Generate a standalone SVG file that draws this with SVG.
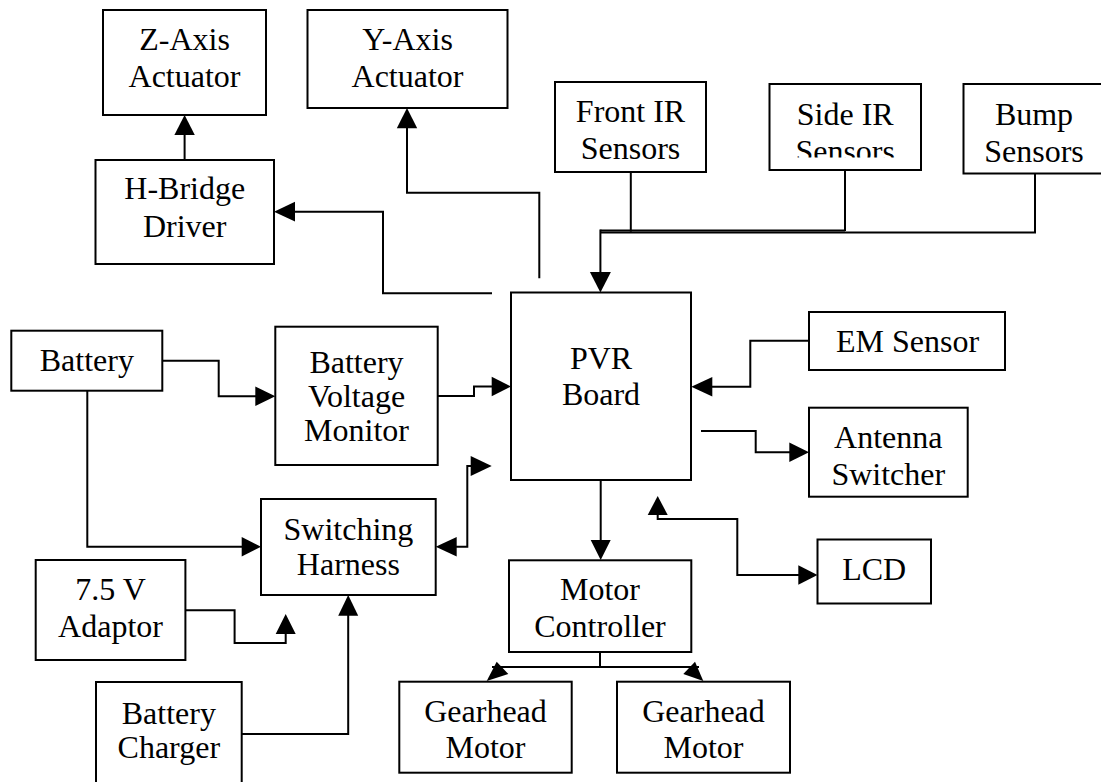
<svg xmlns="http://www.w3.org/2000/svg" width="1101" height="782" viewBox="0 0 1101 782">
  <style>
    .box { fill: #fff; stroke: #000; stroke-width: 2; }
    .lbl { font-family: "Liberation Serif", "Times New Roman", serif; font-size: 32px; fill: #000; text-anchor: middle; }
    .wire { fill: none; stroke: #000; stroke-width: 2; }
    .head { fill: #000; stroke: none; }
  </style>
  <defs>
    <clipPath id="sideClip">
      <rect x="769.5" y="84" width="151.5" height="73.5"/>
    </clipPath>
  </defs>
  <rect width="1101" height="782" fill="#fff"/>

  <!-- connectors -->
  <g id="connectors">
    <!-- H-Bridge to Z-Axis -->
    <path class="wire" d="M184.6,160 V134"/>
    <polygon class="head" points="184.6,115 174.4,135 194.8,135"/>
    <!-- PVR to H-Bridge -->
    <path class="wire" d="M492,293.3 H383 V211.7 H294"/>
    <polygon class="head" points="274,211.7 295,201.8 295,221.6"/>
    <!-- PVR to Y-Axis -->
    <path class="wire" d="M539.3,278.3 V192.7 H407 V127"/>
    <polygon class="head" points="407,108 396.8,128.3 417.2,128.3"/>
    <!-- sensor bus into PVR -->
    <path class="wire" d="M630.8,172 V231.7"/>
    <path class="wire" d="M845,170 V231"/>
    <path class="wire" d="M1035,173.5 V232.5 H600.4"/>
    <path class="wire" d="M845,230.5 H600.4"/>
    <path class="wire" d="M600.4,229.5 V273"/>
    <polygon class="head" points="600.4,292.5 589.9,272 610.9,272"/>
    <!-- Battery to Battery Voltage Monitor -->
    <path class="wire" d="M162.3,360.7 H218.7 V396.3 H256"/>
    <polygon class="head" points="275.3,396.3 255.3,386.6 255.3,406"/>
    <!-- Battery Voltage Monitor to PVR -->
    <path class="wire" d="M437.7,396 H474 V386.5 H492"/>
    <polygon class="head" points="511,386.5 491.7,376.8 491.7,396.2"/>
    <!-- Battery to Switching Harness -->
    <path class="wire" d="M87.3,390.7 V546.7 H242"/>
    <polygon class="head" points="261,546.7 241.7,537 241.7,556.4"/>
    <!-- Switching Harness and PVR -->
    <polygon class="head" points="435.7,546.7 456.7,537 456.7,556.4"/>
    <path class="wire" d="M456,546.7 H467.3 V466 H471"/>
    <polygon class="head" points="491.7,466 470.7,456 470.7,476"/>
    <!-- EM Sensor to PVR -->
    <path class="wire" d="M809,340.7 H750.3 V386.7 H712"/>
    <polygon class="head" points="691.3,386.7 712.3,377 712.3,396.4"/>
    <!-- PVR to Antenna Switcher -->
    <path class="wire" d="M701,431 H755.7 V452.3 H790"/>
    <polygon class="head" points="809,452.3 789.3,442.6 789.3,462"/>
    <!-- PVR to Motor Controller -->
    <path class="wire" d="M600.7,480 V541"/>
    <polygon class="head" points="600.7,560 590.7,540 610.7,540"/>
    <!-- PVR and LCD -->
    <polygon class="head" points="657.7,496 647.7,515 667.7,515"/>
    <path class="wire" d="M657.7,514 V519 H737.3 V575 H799"/>
    <polygon class="head" points="817.5,575 798.3,565.3 798.3,584.7"/>
    <!-- Adaptor to Switching Harness -->
    <path class="wire" d="M185.4,610.3 H234.6 V643 H285.7 V633"/>
    <polygon class="head" points="285.7,614 275.7,634 295.7,634"/>
    <!-- Charger to Switching Harness -->
    <path class="wire" d="M241.7,734 H348.2 V615"/>
    <polygon class="head" points="348.2,595 338.2,615.7 358.2,615.7"/>
    <!-- Motor Controller to Gearhead Motors -->
    <path class="wire" d="M600,652 V667"/>
    <path class="wire" d="M492,667 H699"/>
    <polygon class="head" points="486.7,681 496.7,661.7 508.3,674"/>
    <polygon class="head" points="703.3,681 695,661.7 683.3,674"/>
  </g>

  <!-- nodes -->
  <g id="z-axis">
    <rect class="box" x="103" y="10" width="163" height="105"/>
    <text class="lbl" x="184.5" y="50">Z-Axis</text>
    <text class="lbl" x="184.5" y="87">Actuator</text>
  </g>
  <g id="y-axis">
    <rect class="box" x="307.5" y="10" width="200" height="98"/>
    <text class="lbl" x="407.5" y="50">Y-Axis</text>
    <text class="lbl" x="407.5" y="87">Actuator</text>
  </g>
  <g id="h-bridge">
    <rect class="box" x="95.5" y="160" width="178.5" height="104"/>
    <text class="lbl" x="184.7" y="199">H-Bridge</text>
    <text class="lbl" x="184.7" y="236.5">Driver</text>
  </g>
  <g id="front-ir">
    <rect class="box" x="555" y="82" width="151" height="90"/>
    <text class="lbl" x="630.5" y="122.3">Front IR</text>
    <text class="lbl" x="630.5" y="159.3">Sensors</text>
  </g>
  <g id="side-ir">
    <rect class="box" x="769.5" y="84" width="151.5" height="86"/>
    <text class="lbl" x="845.2" y="124.5">Side IR</text>
    <text class="lbl" x="845.2" y="162" clip-path="url(#sideClip)">Sensors</text>
  </g>
  <g id="bump">
    <rect class="box" x="963.5" y="84" width="142" height="89.5"/>
    <text class="lbl" x="1034" y="125">Bump</text>
    <text class="lbl" x="1034" y="161.7">Sensors</text>
  </g>
  <g id="pvr">
    <rect class="box" x="511" y="292.5" width="180" height="187.5"/>
    <text class="lbl" x="601" y="369.3">PVR</text>
    <text class="lbl" x="601" y="405">Board</text>
  </g>
  <g id="em-sensor">
    <rect class="box" x="809" y="312" width="196" height="58"/>
    <text class="lbl" x="907.5" y="351.7">EM Sensor</text>
  </g>
  <g id="antenna">
    <rect class="box" x="809" y="407.7" width="158.7" height="89"/>
    <text class="lbl" x="888.3" y="448.3">Antenna</text>
    <text class="lbl" x="888.3" y="485">Switcher</text>
  </g>
  <g id="battery">
    <rect class="box" x="11.3" y="330.7" width="151" height="60"/>
    <text class="lbl" x="86.8" y="370.7">Battery</text>
  </g>
  <g id="voltage-monitor">
    <rect class="box" x="275.3" y="326.7" width="162.4" height="138.3"/>
    <text class="lbl" x="356.5" y="373">Battery</text>
    <text class="lbl" x="356.5" y="407">Voltage</text>
    <text class="lbl" x="356.5" y="441">Monitor</text>
  </g>
  <g id="switching-harness">
    <rect class="box" x="261" y="499" width="174.7" height="96"/>
    <text class="lbl" x="348.4" y="540">Switching</text>
    <text class="lbl" x="348.4" y="575">Harness</text>
  </g>
  <g id="adaptor">
    <rect class="box" x="35.7" y="560" width="149.7" height="100"/>
    <text class="lbl" x="110.5" y="600">7.5 V</text>
    <text class="lbl" x="110.5" y="636.7">Adaptor</text>
  </g>
  <g id="charger">
    <rect class="box" x="96" y="682" width="145.7" height="110"/>
    <text class="lbl" x="168.8" y="724">Battery</text>
    <text class="lbl" x="168.8" y="758.3">Charger</text>
  </g>
  <g id="motor-controller">
    <rect class="box" x="509" y="560.3" width="182.3" height="91.7"/>
    <text class="lbl" x="600" y="600">Motor</text>
    <text class="lbl" x="600" y="636.7">Controller</text>
  </g>
  <g id="lcd">
    <rect class="box" x="817.5" y="539.5" width="113.5" height="64"/>
    <text class="lbl" x="874.2" y="580">LCD</text>
  </g>
  <g id="gearhead-1">
    <rect class="box" x="399.3" y="681.7" width="172.4" height="91"/>
    <text class="lbl" x="485.5" y="721.7">Gearhead</text>
    <text class="lbl" x="485.5" y="758.3">Motor</text>
  </g>
  <g id="gearhead-2">
    <rect class="box" x="617" y="681.7" width="173" height="91"/>
    <text class="lbl" x="703.5" y="721.7">Gearhead</text>
    <text class="lbl" x="703.5" y="758.3">Motor</text>
  </g>
</svg>
